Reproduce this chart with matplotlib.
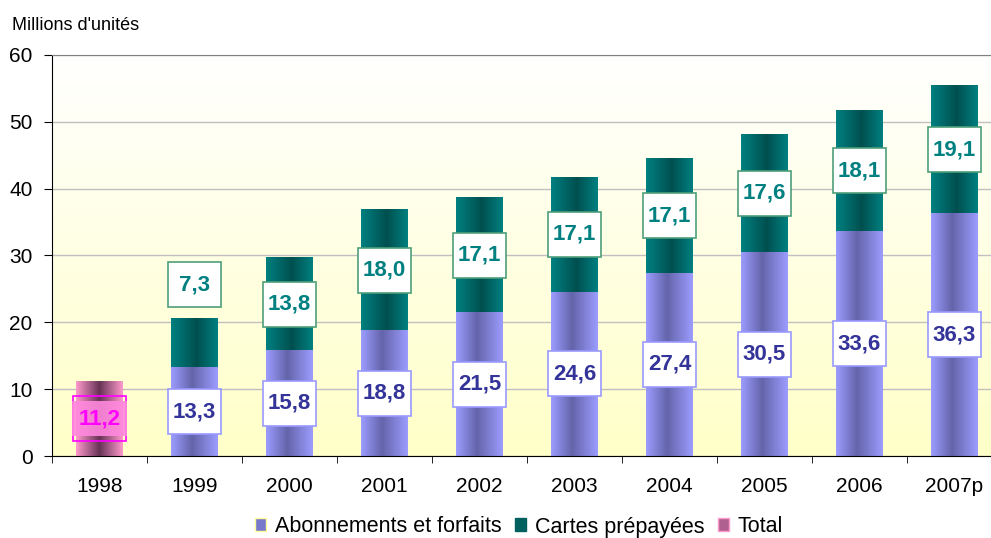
import numpy as np
import matplotlib.pyplot as plt
from matplotlib.colors import LinearSegmentedColormap
from matplotlib.patches import Patch, Rectangle
from matplotlib.transforms import ScaledTranslation

plt.rcParams['font.family'] = ['Liberation Sans', 'DejaVu Sans']

years = ['1998', '1999', '2000', '2001', '2002', '2003', '2004', '2005', '2006', '2007p']
abonnements = [0, 13.3, 15.8, 18.8, 21.5, 24.6, 27.4, 30.5, 33.6, 36.3]
prepayees = [0, 7.3, 13.8, 18.0, 17.1, 17.1, 17.1, 17.6, 18.1, 19.1]
total = [11.2, 0, 0, 0, 0, 0, 0, 0, 0, 0]

# gradient colours (edge, dark centre, edge)
grad_abo = LinearSegmentedColormap.from_list('abo', [(0, '#9C9CFF'), (0.45, '#6464AA'), (1, '#9C9CFF')])
grad_pre = LinearSegmentedColormap.from_list('pre', [(0, '#008080'), (0.55, '#004F4F'), (1, '#008080')])
grad_tot = LinearSegmentedColormap.from_list('tot', [(0, '#FF99CC'), (0.5, '#663355'), (1, '#FF99CC')])

fig = plt.figure(figsize=(9.91, 5.38), dpi=100)
ax = fig.add_axes([52 / 991, 82 / 538, 950 / 991, 401 / 538])

x = np.arange(len(years))
w = 0.49

# background gradient (pale yellow at bottom to white at top)
bg = LinearSegmentedColormap.from_list('bg', ['#FFFFC8', '#FFFFFF'])
ax.imshow(np.linspace(0, 1, 256).reshape(-1, 1), cmap=bg, origin='lower',
          extent=(0, 1, 0, 1), transform=ax.transAxes, aspect='auto', zorder=0)

b_tot = ax.bar(x, total, w, color='none', zorder=2)
b_abo = ax.bar(x, abonnements, w, color='none', zorder=2)
b_pre = ax.bar(x, prepayees, w, bottom=abonnements, color='none', zorder=2)

hgrad = np.linspace(0, 1, 128).reshape(1, -1)
for bars, cm in [(b_tot, grad_tot), (b_abo, grad_abo), (b_pre, grad_pre)]:
    for r in bars:
        if r.get_height() <= 0:
            continue
        x0, y0 = r.get_x(), r.get_y()
        ax.imshow(hgrad, cmap=cm, extent=(x0, x0 + r.get_width(), y0, y0 + r.get_height()),
                  aspect='auto', zorder=2, interpolation='bilinear')


def label(xc, yc, txt, tcol, ecol, fcol='white', tbg=None):
    tr = fig.dpi_scale_trans + ScaledTranslation(xc, yc, ax.transData)
    ax.add_patch(Rectangle((-0.265, -0.225), 0.53, 0.45, transform=tr, facecolor=fcol,
                           edgecolor=ecol, linewidth=1.2, zorder=4, clip_on=False))
    bbox = None
    if tbg:
        bbox = dict(boxstyle='square,pad=0.3', facecolor=tbg, edgecolor='none', alpha=0.9)
    ax.text(xc, yc, txt, ha='center', va='center', color=tcol, fontsize=16,
            fontweight='bold', zorder=5, bbox=bbox)


def fmt(v):
    return f'{v:.1f}'.replace('.', ',')


for i in range(len(years)):
    if total[i] > 0:
        label(x[i], total[i] / 2, fmt(total[i]), '#FF00FF', '#FF00FF', 'none', '#FF88DD')
    if abonnements[i] > 0:
        label(x[i], abonnements[i] / 2, fmt(abonnements[i]), '#333399', '#9999FF')
    if prepayees[i] > 0:
        top = abonnements[i] + prepayees[i]
        yc = top + 5 if prepayees[i] < 10 else abonnements[i] + prepayees[i] / 2
        label(x[i], yc, fmt(prepayees[i]), '#008080', '#4E9E7A')

ax.set_xlim(-0.5, len(years) - 0.5)
ax.set_ylim(0, 60)
ax.set_yticks(range(0, 61, 10))
ax.yaxis.grid(True, color='#C0C0C0', linewidth=1, zorder=1)
ax.set_axisbelow(True)
ax.set_xticks(x)
ax.set_xticklabels(years, fontsize=15)
ax.set_xticks(np.arange(-0.5, len(years), 1), minor=True)
ax.tick_params(axis='x', which='major', length=0, pad=15)
ax.tick_params(axis='x', which='minor', length=5, direction='out', color='black')
ax.tick_params(axis='y', labelsize=15, length=6, direction='out', pad=8)
ax.spines['right'].set_visible(False)
ax.spines['top'].set_color('#808080')
ax.spines['left'].set_color('black')
ax.spines['bottom'].set_color('black')

fig.text(12 / 991, 1 - 26 / 538, "Millions d'unités", fontsize=13, va='center', ha='left')

handles = [Patch(facecolor='#7878CC', edgecolor='#FFFF99'),
           Patch(facecolor='#006060', edgecolor='#006060'),
           Patch(facecolor='#B06090', edgecolor='#FF99CC')]
fig.legend(handles, ['Abonnements et forfaits', 'Cartes prépayées', 'Total'],
           loc='center', bbox_to_anchor=(519 / 991, 1 - 527 / 538), ncol=3, frameon=False,
           fontsize=15.5, handlelength=0.55, handleheight=0.55, handletextpad=0.4,
           columnspacing=0.6, borderpad=0)

fig.savefig('out.png', dpi=100)
